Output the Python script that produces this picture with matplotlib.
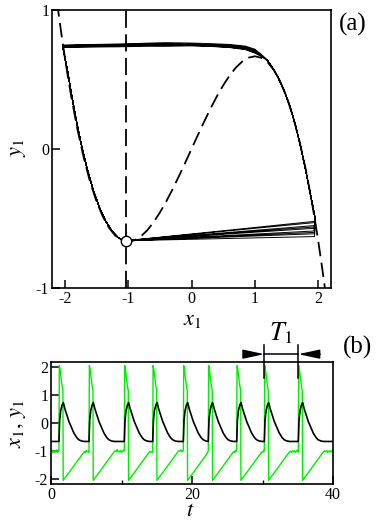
import matplotlib
matplotlib.use('Agg')
import matplotlib.pyplot as plt
from matplotlib.ticker import MultipleLocator

plt.rcParams['font.family'] = ['Liberation Serif', 'DejaVu Serif']
plt.rcParams['mathtext.fontset'] = 'stix'
plt.rcParams['axes.unicode_minus'] = False

# ---------------- panel (a) data ----------------
# dashed cubic nullcline
cubic_x = [-2.12, -2.10, -2.05, -2.00, -1.95, -1.90, -1.80, -1.70, -1.60, -1.50, -1.40,
           -1.30, -1.20, -1.10, -1.00, -0.90, -0.80, -0.70, -0.60, -0.50, -0.40, -0.30,
           -0.20, -0.10, 0.00, 0.10, 0.20, 0.30, 0.40, 0.50, 0.60, 0.70, 0.80, 0.90,
           1.00, 1.10, 1.20, 1.30, 1.40, 1.50, 1.60, 1.70, 1.80, 1.90, 1.95, 2.00,
           2.05, 2.10, 2.12]
cubic_y = [1.056, 0.987, 0.822, 0.667, 0.522, 0.386, 0.144, -0.062, -0.235, -0.375, -0.485,
           -0.568, -0.624, -0.656, -0.667, -0.657, -0.629, -0.586, -0.528, -0.458, -0.379, -0.291,
           -0.197, -0.100, 0.000, 0.100, 0.197, 0.291, 0.379, 0.458, 0.528, 0.586, 0.629, 0.657,
           0.667, 0.656, 0.624, 0.568, 0.485, 0.375, 0.235, 0.062, -0.144, -0.386, -0.522, -0.667,
           -0.822, -0.987, -1.056]
vnull_x = -1.04          # vertical dashed nullcline
rest_x, rest_y = -1.04, -0.66

# trajectory pieces
bottom_end_x = [1.93, 1.95, 1.94, 1.96, 1.94, 1.93, 1.95, 1.94, 1.96]
bottom_end_y = [-0.53, -0.57, -0.61, -0.55, -0.63, -0.59, -0.52, -0.60, -0.56]
right_x = [1.95, 1.92, 1.86, 1.80, 1.72, 1.64, 1.55, 1.46, 1.36, 1.27, 1.20]
right_y = [-0.50, -0.43, -0.29, -0.15, 0.02, 0.17, 0.31, 0.42, 0.52, 0.59, 0.635]
top_x = [1.12, 1.00, 0.85, 0.60, 0.30, 0.00, -0.40, -0.80, -1.20, -1.60, -1.85, -2.03]
top_y = [
    [0.665, 0.695, 0.720, 0.735, 0.742, 0.748, 0.752, 0.748, 0.744, 0.740, 0.738, 0.736],
    [0.668, 0.705, 0.728, 0.742, 0.750, 0.755, 0.750, 0.755, 0.750, 0.745, 0.742, 0.740],
    [0.670, 0.712, 0.735, 0.748, 0.745, 0.752, 0.758, 0.752, 0.748, 0.750, 0.746, 0.744],
    [0.662, 0.690, 0.715, 0.730, 0.738, 0.742, 0.740, 0.738, 0.735, 0.734, 0.732, 0.730],
    [0.672, 0.718, 0.740, 0.752, 0.758, 0.762, 0.765, 0.760, 0.755, 0.752, 0.750, 0.748],
    [0.666, 0.700, 0.722, 0.738, 0.748, 0.744, 0.750, 0.746, 0.740, 0.742, 0.740, 0.738],
    [0.664, 0.693, 0.718, 0.732, 0.740, 0.745, 0.743, 0.746, 0.738, 0.736, 0.735, 0.733],
    [0.670, 0.708, 0.732, 0.745, 0.752, 0.750, 0.756, 0.750, 0.752, 0.746, 0.744, 0.742],
    [0.668, 0.702, 0.726, 0.740, 0.746, 0.752, 0.748, 0.744, 0.746, 0.742, 0.741, 0.739],
]
left_x = [-1.99, -1.95, -1.90, -1.82, -1.74, -1.65, -1.55, -1.45, -1.35, -1.25, -1.16, -1.08, -1.04]
left_y = [0.640, 0.550, 0.413, 0.213, 0.036, -0.135, -0.295, -0.423, -0.522, -0.593, -0.636, -0.658, -0.66]

# ---------------- panel (b) data ----------------
spike_onsets = [1.13, 5.39, 10.40, 14.43, 18.77, 22.31, 26.34, 30.26, 35.08]
t_end = 40.0
# shape of one x1 spike (offset from onset, value)
x1_dt = [0.00, 0.05, 0.14, 0.26, 0.40, 0.56, 0.60, 1.40, 2.20, 2.90, 3.30, 3.60]
x1_val = [-1.00, 2.05, 1.95, 1.70, 1.40, 1.15, -2.05, -1.78, -1.50, -1.26, -1.12, -1.02]
# shape of one y1 pulse
y1_dt = [0.00, 0.10, 0.25, 0.45, 0.62, 0.82, 1.02, 1.22, 1.42, 1.72, 2.12, 2.52, 2.82, 3.22, 3.62]
y1_val = [-0.66, 0.10, 0.45, 0.65, 0.73, 0.52, 0.36, 0.20, 0.05, -0.13, -0.36, -0.52, -0.60, -0.645, -0.66]
x1_rest_level = -1.0
y1_rest_level = -0.66
# small fluctuations of x1 on its resting plateau
x1_noise = [-1.02, -0.97, -1.05, -0.99, -1.06, -1.00, -0.96, -1.04, -1.01, -1.07,
            -0.98, -1.03, -1.00, -1.05, -0.99, -1.02, -0.95, -1.04, -1.00, -1.03,
            -0.98, -1.05, -1.01, -0.97, -1.04, -1.02, -1.06, -0.99, -1.01, -0.96,
            -1.03, -1.00, -1.05, -0.98, -1.02, -1.04, -0.97, -1.01, -1.06, -1.00,
            -1.03, -0.99, -1.05, -1.01, -0.97, -1.04, -1.00, -1.02, -0.98, -1.05,
            -1.01, -1.03, -0.99, -1.04, -1.00, -0.97, -1.02, -1.05, -1.00, -1.03]
noise_step = 0.13

# ---------------- build series ----------------
traj_x, traj_y = [], []
for i in range(len(bottom_end_y)):
    traj_x += [rest_x, bottom_end_x[i]] + right_x + top_x + left_x
    traj_y += [rest_y, bottom_end_y[i]] + right_y + top_y[i] + left_y

noise_iter = iter(x1_noise)
def plateau(t0, t1, tt, vv):
    t = t0
    while t < t1 - 1e-6:
        tt.append(t)
        vv.append(next(noise_iter, x1_rest_level))
        t += noise_step

ts_x, vs_x, ts_y, vs_y = [], [], [], []
plateau(0.0, spike_onsets[0], ts_x, vs_x)
ts_y += [0.0]
vs_y += [y1_rest_level]
for i, s in enumerate(spike_onsets):
    e = spike_onsets[i + 1] if i + 1 < len(spike_onsets) else t_end
    for dt, v in zip(x1_dt, x1_val):
        if s + dt < e:
            ts_x.append(s + dt); vs_x.append(v)
    plateau(s + x1_dt[-1] + noise_step, e, ts_x, vs_x)
    for dt, v in zip(y1_dt, y1_val):
        if s + dt < e:
            ts_y.append(s + dt); vs_y.append(v)
ts_x.append(t_end); vs_x.append(x1_rest_level)
ts_y.append(t_end); vs_y.append(y1_rest_level)

# ---------------- figure ----------------
W, H = 382, 531
fig = plt.figure(figsize=(W / 100, H / 100), dpi=100)

def fx(px):
    return px / W
def fy(py):
    return 1 - py / H

ax1 = fig.add_axes([fx(52), fy(288), (331 - 52) / W, (288 - 10) / H])
ax2 = fig.add_axes([fx(51), fy(484), (333 - 51) / W, (484 - 362) / H])

for ax in (ax1, ax2):
    for sp in ax.spines.values():
        sp.set_linewidth(1.2)
    ax.tick_params(which='major', direction='in', length=6, width=1.1,
                   top=False, right=False, labelsize=11.5, pad=2.5)
    ax.tick_params(which='minor', direction='in', length=3, width=1.0,
                   top=False, right=False)

# panel (a)
dash = (0, (8.0, 3.6))
ax1.plot(cubic_x, cubic_y, color='black', lw=1.3, linestyle=dash, zorder=2)
ax1.axvline(vnull_x, color='black', lw=1.3, linestyle=(0, (9.5, 3.6)), zorder=2)
ax1.plot(traj_x, traj_y, color='black', lw=0.7, zorder=3)
ax1.plot([rest_x], [rest_y], marker='o', ms=7.5, mfc='white', mec='black', mew=1.0, zorder=5)
ax1.set_xlim(-2.2, 2.2)
ax1.set_ylim(-1, 1)
ax1.set_xticks([-2, -1, 0, 1, 2])
ax1.set_yticks([-1, 0, 1])
ax1.tick_params(axis='y', pad=2)

# panel (b)
ax2.plot(ts_x, vs_x, color='#00ee00', lw=1.0, zorder=2)
ax2.plot(ts_y, vs_y, color='black', lw=1.2, zorder=3)
ax2.set_xlim(0, 40)
ax2.set_ylim(-2.18, 2.18)
ax2.set_xticks([0, 20, 40])
ax2.xaxis.set_minor_locator(MultipleLocator(10))
ax2.set_yticks([-2, -1, 0, 1, 2])
ax2.tick_params(axis='y', pad=2)

# T1 annotation
t_a, t_b = spike_onsets[7], spike_onsets[8]
y_line, y_top, y_bot = 2.46, 2.79, 1.6
ax2.plot([t_a, t_a], [y_bot, y_top], color='black', lw=1.1, clip_on=False, zorder=4)
ax2.plot([t_b, t_b], [y_bot, y_top], color='black', lw=1.1, clip_on=False, zorder=4)
ax2.plot([t_a, t_b], [y_line, y_line], color='black', lw=1.1, clip_on=False, zorder=4)
arrow_kw = dict(arrowstyle='-|>,head_length=1.3,head_width=0.28', color='black',
                lw=1.0, shrinkA=0, shrinkB=0)
ax2.annotate('', xy=(t_a, y_line), xytext=(27.5, y_line), arrowprops=arrow_kw,
             annotation_clip=False)
ax2.annotate('', xy=(t_b, y_line), xytext=(38.2, y_line), arrowprops=arrow_kw,
             annotation_clip=False)
ax2.text(32.6, 3.22, r'$T_1$', fontsize=19, ha='center', va='center')

# labels
fig.text(fx(192), fy(320), r'$x_1$', fontsize=16, ha='center', va='center')
fig.text(fx(19), fy(148), r'$y_1$', fontsize=16, ha='center', va='center', rotation=90)
fig.text(fx(190), fy(512), r'$t$', fontsize=16, ha='center', va='center')
fig.text(fx(19), fy(424), r'$x_1,\,y_1$', fontsize=16, ha='center', va='center', rotation=90)
fig.text(fx(353), fy(24), '(a)', fontsize=18, ha='center', va='center')
fig.text(fx(357), fy(347), '(b)', fontsize=18, ha='center', va='center')

fig.savefig('out.png', dpi=100)
